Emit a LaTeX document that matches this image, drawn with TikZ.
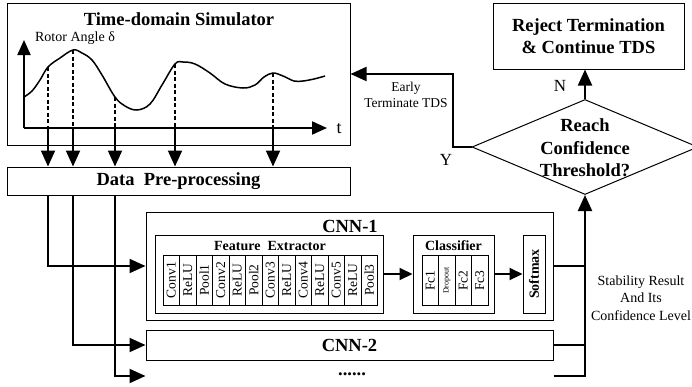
\documentclass[tikz,border=0pt]{standalone}
\usepackage{fontspec}
\setmainfont{Liberation Serif}
\usepackage{tikz}
\usetikzlibrary{arrows.meta,positioning,calc,shapes.geometric}

\begin{document}
\begin{tikzpicture}[x=1pt,y=-1pt,
  box/.style={rectangle,draw,line width=1pt,inner sep=0pt},
  layer/.style={rectangle,draw,line width=0.8pt,rotate=90,minimum width=50pt,minimum height=16.5pt,inner sep=0pt,font=\fontsize{13.5}{13.5}\selectfont},
  headline/.style={font=\bfseries\fontsize{18.5}{22.5}\selectfont},
  subhead/.style={font=\bfseries\fontsize{14}{16}\selectfont},
  note/.style={font=\fontsize{13.5}{16.5}\selectfont,align=center},
  bigarrow/.style={line width=2pt,-{Triangle[length=16pt,width=14pt]}},
  smallarrow/.style={line width=2pt,-{Triangle[length=13pt,width=12pt]}},
  wire/.style={line width=2pt}]
\useasboundingbox (0,0) rectangle (692,386);

% simulator with the rotor angle curve
\node[box,minimum width=343pt,minimum height=142pt,name=sim] at (178.5,74) {};
\node[headline,name=simtitle] at (179,19) {Time-domain Simulator};
\coordinate (origin) at (24,128);
\draw[line width=2pt,-{Triangle[length=15pt,width=13pt]}] (origin) -- (24,40);
\draw[line width=2pt,-{Triangle[length=15pt,width=13pt]}] (origin) -- (327,128);
\node[font=\fontsize{14}{14}\selectfont,name=ylabel] at (75,38) {Rotor Angle δ};
\node[font=\fontsize{18}{18}\selectfont,name=tlabel] at (339,129) {t};
\draw[line width=1.5pt] plot[smooth,tension=0.6] coordinates {(24,97) (32,91) (40,80) (48,67) (60,58) (73,50) (82,53) (92,60) (102,75) (115,97) (125,106) (137,110) (150,104) (162,85) (175,64) (183,62) (195,64) (210,73) (225,84) (243,88) (255,85) (264,77) (273,73) (283,76) (294,81) (303,81) (314,79) (325,76)};

% sampling points on the curve
\coordinate (tap1) at (48,67);
\coordinate (tap2) at (73,50);
\coordinate (tap3) at (115,97);
\coordinate (tap4) at (175,64);
\coordinate (tap5) at (273,73);

% pre-processing
\node[box,minimum width=343pt,minimum height=28pt,name=prep] at (178.5,181) {};
\node[headline] at (prep) {Data\enspace Pre-processing};

\foreach \t in {tap1,tap2,tap3,tap4,tap5}{
  \draw[line width=1.4pt,dash pattern=on 4pt off 2.5pt] (\t) -- (\t |- origin);
  \draw[bigarrow] (\t |- origin) -- (\t |- prep.north);
}

% CNN-1 with its parts
\node[box,minimum width=407pt,minimum height=108pt,name=cnn1] at (349.5,266) {};
\node[headline] at (350,226) {CNN-1};
\node[box,minimum width=228pt,minimum height=78pt,name=feat] at (269,274) {};
\node[subhead] at (270,246) {Feature\enspace Extractor};
\foreach \lbl [count=\i] in {Conv1,ReLU,Pool1,Conv2,ReLU,Pool2,Conv3,ReLU,Conv4,ReLU,Conv5,ReLU,Pool3}
  \node[layer,name=fe\i] at ({163+16.5*\i-8.25},280) {\lbl};

\node[box,minimum width=81pt,minimum height=78pt,name=cls] at (453.5,274) {};
\node[subhead] at (453.5,246) {Classifier};
\node[layer,name=fc1] at (430.25,280.5) {Fc1};
\node[layer,name=drop,font=\fontsize{8}{8}\selectfont] at (446.75,280.5) {Dropout};
\node[layer,name=fc2] at (463.25,280.5) {Fc2};
\node[layer,name=fc3] at (479.75,280.5) {Fc3};

\node[box,minimum width=22pt,minimum height=78pt,name=soft] at (534,274) {};
\node[subhead,rotate=90] at (soft) {Softmax};

\draw[smallarrow] (feat) -- (cls);
\draw[smallarrow] (cls) -- (soft);

% further networks
\node[box,minimum width=407pt,minimum height=30pt,name=cnn2] at (349.5,345) {};
\node[headline] at (cnn2) {CNN-2};
\node[headline,name=dots] at (352,374) {......};

% decision and termination
\node[box,minimum width=191pt,minimum height=66pt,name=reject] at (588.5,36) {};
\node[headline,align=center] at (reject) {Reject Termination\\\& Continue TDS};
\node[diamond,draw,line width=1pt,minimum width=226pt,minimum height=95pt,inner sep=0pt,name=conf] at (585,147) {};
\node[headline,align=center] at (585,148) {Reach\\Confidence\\Threshold?};

% inputs to the networks
\draw[bigarrow] (tap1 |- prep.south) |- (cnn1.west);
\draw[bigarrow] (tap2 |- prep.south) |- (cnn2.west);
\draw[bigarrow] (tap3 |- prep.south) |- (cnn2.west |- 0,376);

% outputs to the decision
\draw[wire] (cnn1.east) -- (cnn1.east -| conf.south);
\draw[wire] (cnn2.east) -- (cnn2.east -| conf.south);
\draw[bigarrow] (cnn2.east |- 0,376) -| (conf.south);
\node[note,font=\fontsize{14}{17.5}\selectfont] at (641,298) {Stability Result\\And Its\\Confidence Level};

% yes / no branches
\coordinate (turn) at (453,147);
\draw[bigarrow] (conf.west) -- (turn) |- (sim.east);
\node[note] at (406,95) {Early\\Terminate TDS};
\node[font=\fontsize{17}{17}\selectfont] at (446,160) {Y};
\draw[bigarrow] (conf.north) -- (conf.north |- reject.south);
\node[font=\fontsize{17}{17}\selectfont] at (560,86) {N};
\end{tikzpicture}
\end{document}
